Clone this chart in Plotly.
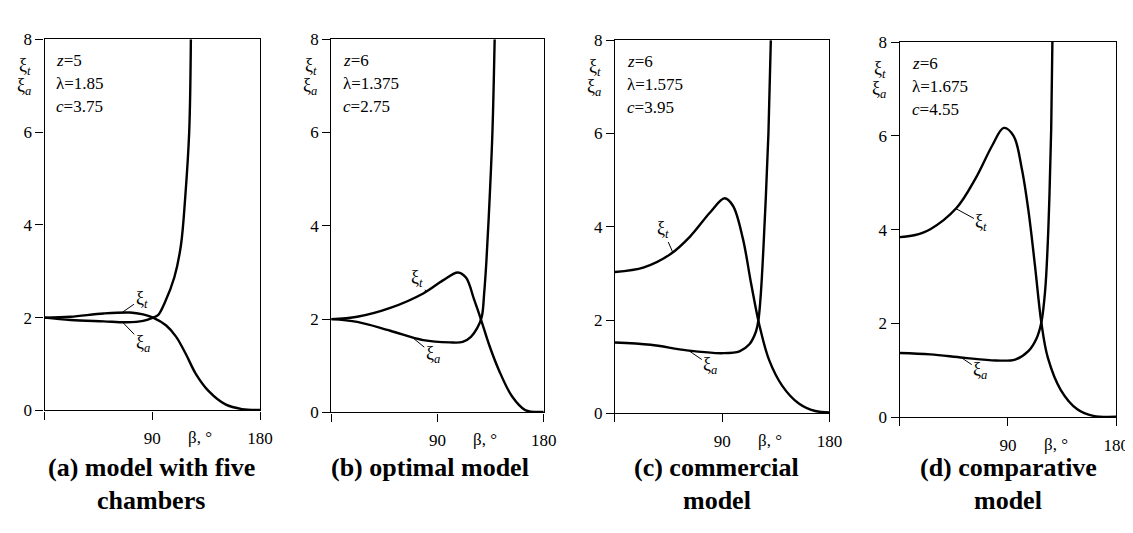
import plotly.graph_objects as go

# ---------------- data ----------------
beta_a_t = [0, 21.7, 49.3, 71.3, 82.3, 90.6, 101.6, 109.8, 118.1, 126.3, 137.3, 151.1, 164.9, 180]
xi_a_t = [2.0, 2.02, 2.09, 2.11, 2.07, 2.0, 1.83, 1.59, 1.21, 0.79, 0.41, 0.13, 0.03, 0.01]
beta_a_a = [0, 21.7, 49.3, 68.5, 82.3, 90.6, 95, 100.2, 108.4, 113.9, 117.5, 120.8, 122.2]
xi_a_a = [2.0, 1.95, 1.92, 1.9, 1.93, 2.0, 2.06, 2.31, 2.87, 3.56, 4.6, 6.0, 8.0]

beta_b_t = [0, 22, 50, 77.9, 94.6, 107.2, 114.1, 121.1, 126.7, 133.7, 142.1, 153.2, 164.3, 180]
xi_b_t = [2.0, 2.05, 2.24, 2.55, 2.83, 3.0, 2.89, 2.41, 2.0, 1.45, 0.9, 0.34, 0.05, 0.01]
beta_b_a = [0, 22, 50, 77.9, 100.2, 111.3, 118.3, 123.7, 127.5, 129.5, 131.4, 134.2, 136.5, 138.4]
xi_b_a = [2.0, 1.94, 1.75, 1.55, 1.5, 1.51, 1.62, 1.81, 2.05, 2.55, 3.24, 4.62, 6.0, 8.0]

beta_c_t = [0, 24.3, 46.4, 63, 79.6, 92, 99, 107.3, 114.2, 121.1, 129.4, 140.4, 154.3, 168, 180]
xi_c_t = [3.03, 3.13, 3.41, 3.79, 4.3, 4.61, 4.45, 3.75, 2.79, 1.9, 1.14, 0.59, 0.21, 0.05, 0.02]
beta_c_a = [0, 29.9, 60.3, 90.7, 104.5, 112.8, 118.4, 120.5, 122.5, 124.5, 126.6, 128.8, 130.8]
xi_c_a = [1.52, 1.47, 1.35, 1.29, 1.33, 1.48, 1.76, 2.02, 2.6, 3.5, 4.63, 6.01, 8.0]

beta_d_t = [0, 12, 25.5, 47.2, 63.5, 77.1, 86.6, 94.7, 101.5, 107, 112.4, 117.8, 123.2, 134, 147.7, 161, 180]
xi_d_t = [3.84, 3.88, 4.01, 4.46, 5.11, 5.8, 6.17, 6.0, 5.31, 4.42, 3.26, 2.02, 1.27, 0.58, 0.17, 0.03, 0.01]
beta_d_a = [0, 25.5, 52.7, 80, 96, 107, 113.8, 117.8, 121, 123.2, 124.6, 126, 127]
xi_d_a = [1.37, 1.34, 1.27, 1.21, 1.23, 1.41, 1.68, 2.02, 2.71, 3.74, 4.77, 6.14, 8.0]

params = [["<i>z</i>=5", "λ=1.85", "<i>c</i>=3.75"],
          ["<i>z</i>=6", "λ=1.375", "<i>c</i>=2.75"],
          ["<i>z</i>=6", "λ=1.575", "<i>c</i>=3.95"],
          ["<i>z</i>=6", "λ=1.675", "<i>c</i>=4.55"]]
subtitles = [["(a) model with five", "chambers"],
             ["(b) optimal model"],
             ["(c) commercial", "model"],
             ["(d) comparative", "model"]]
x_tickvals = [90, 180]
x_minor_ticks = [0]
y_tickvals = [0, 2, 4, 6, 8]

# ---------------- layout helpers ----------------
W, H = 1133, 533
# pixel boxes of the plot areas: (left, right, top, bottom)
boxes = [(37, 255, 23, 408), (327, 542, 23, 410), (614, 831, 24, 411), (902, 1121, 26, 415)]
sub_centers = [145, 427, 717, 1012]
# label pointer points (beta, xi) and text positions (beta, xi) in data units
lab_t = [((65.2, 2.12), (81, 2.4)), ((80.6, 2.58), (73, 2.88)), ((48.7, 3.44), (40, 3.95)), ((46.7, 4.45), (68, 4.15))]
lab_a = [((65.2, 1.9), (82, 1.45)), ((68, 1.62), (86, 1.25)), ((61.6, 1.35), (80, 1.03)), ((51.3, 1.27), (67, 1.0))]

series = [(beta_a_t, xi_a_t, beta_a_a, xi_a_a),
          (beta_b_t, xi_b_t, beta_b_a, xi_b_a),
          (beta_c_t, xi_c_t, beta_c_a, xi_c_a),
          (beta_d_t, xi_d_t, beta_d_a, xi_d_a)]

SERIF = "Liberation Serif, Times New Roman, serif"
fig = go.Figure()
annotations = []
layout = dict(width=W, height=H, margin=dict(l=0, r=0, t=0, b=0),
              paper_bgcolor="white", plot_bgcolor="white", showlegend=False)


def pf(size):
    return dict(family=SERIF, size=size, color="black")


for i, (bt, xt, ba, xa) in enumerate(series):
    n = "" if i == 0 else str(i + 1)
    xr, yr = "x" + n, "y" + n
    for bx, yy in ((bt, xt), (ba, xa)):
        fig.add_trace(go.Scatter(x=bx, y=yy, xaxis=xr, yaxis=yr, mode="lines",
                                 line=dict(color="black", width=2.4, shape="spline", smoothing=1.0),
                                 hoverinfo="skip"))
    l, r, t, b = boxes[i]
    axcommon = dict(showline=True, linecolor="black", linewidth=1.3, mirror=True,
                    ticks="outside", ticklen=8, tickwidth=1.2, tickcolor="black",
                    showgrid=False, zeroline=False, tickfont=pf(17))
    layout["xaxis" + n] = dict(axcommon, domain=[l / W, r / W], range=[0, 180], anchor=yr,
                               tickvals=x_tickvals, ticklabelstandoff=4,
                               minor=dict(tickvals=x_minor_ticks, ticks="outside", ticklen=8,
                                          tickwidth=1.2, tickcolor="black", showgrid=False))
    layout["yaxis" + n] = dict(axcommon, domain=[1 - b / H, 1 - t / H], range=[0, 8], anchor=xr,
                               tickvals=y_tickvals)
    # y-axis label
    annotations.append(dict(xref="paper", yref="paper", x=(l - 12) / W, y=1 - (t + 28) / H,
                            xanchor="right", yanchor="middle", showarrow=False,
                            text="ξ<sub><i>t</i></sub>", font=pf(18)))
    annotations.append(dict(xref="paper", yref="paper", x=(l - 12) / W, y=1 - (t + 49) / H,
                            xanchor="right", yanchor="middle", showarrow=False,
                            text="ξ<sub><i>a</i></sub>", font=pf(18)))
    # parameters
    for k, txt in enumerate(params[i]):
        annotations.append(dict(xref="paper", yref="paper", x=(l + 10) / W, y=1 - (t + 22 + 24 * k) / H,
                                xanchor="left", yanchor="middle", showarrow=False, text=txt, font=pf(17)))
    # x-axis title
    annotations.append(dict(xref=xr, yref="paper", x=130, y=1 - (b + 28) / H, xanchor="center",
                            yanchor="middle", showarrow=False, text="β, °", font=pf(17)))
    # curve labels
    for (pt, tp), txt in ((lab_t[i], "ξ<sub><i>t</i></sub>"), (lab_a[i], "ξ<sub><i>a</i></sub>")):
        annotations.append(dict(xref=xr, yref=yr, x=pt[0], y=pt[1], axref=xr, ayref=yr,
                                ax=tp[0], ay=tp[1], showarrow=True, arrowhead=0, arrowwidth=1,
                                arrowcolor="black", text=txt, font=pf(18)))
    # subtitles
    for k, line in enumerate(subtitles[i]):
        annotations.append(dict(xref="paper", yref="paper", x=sub_centers[i] / W,
                                y=1 - (467 + 34 * k) / H, xanchor="center", yanchor="middle",
                                showarrow=False, text="<b>" + line + "</b>", font=pf(26)))

layout["annotations"] = annotations
fig.update_layout(**layout)
fig.write_html("out.html")
